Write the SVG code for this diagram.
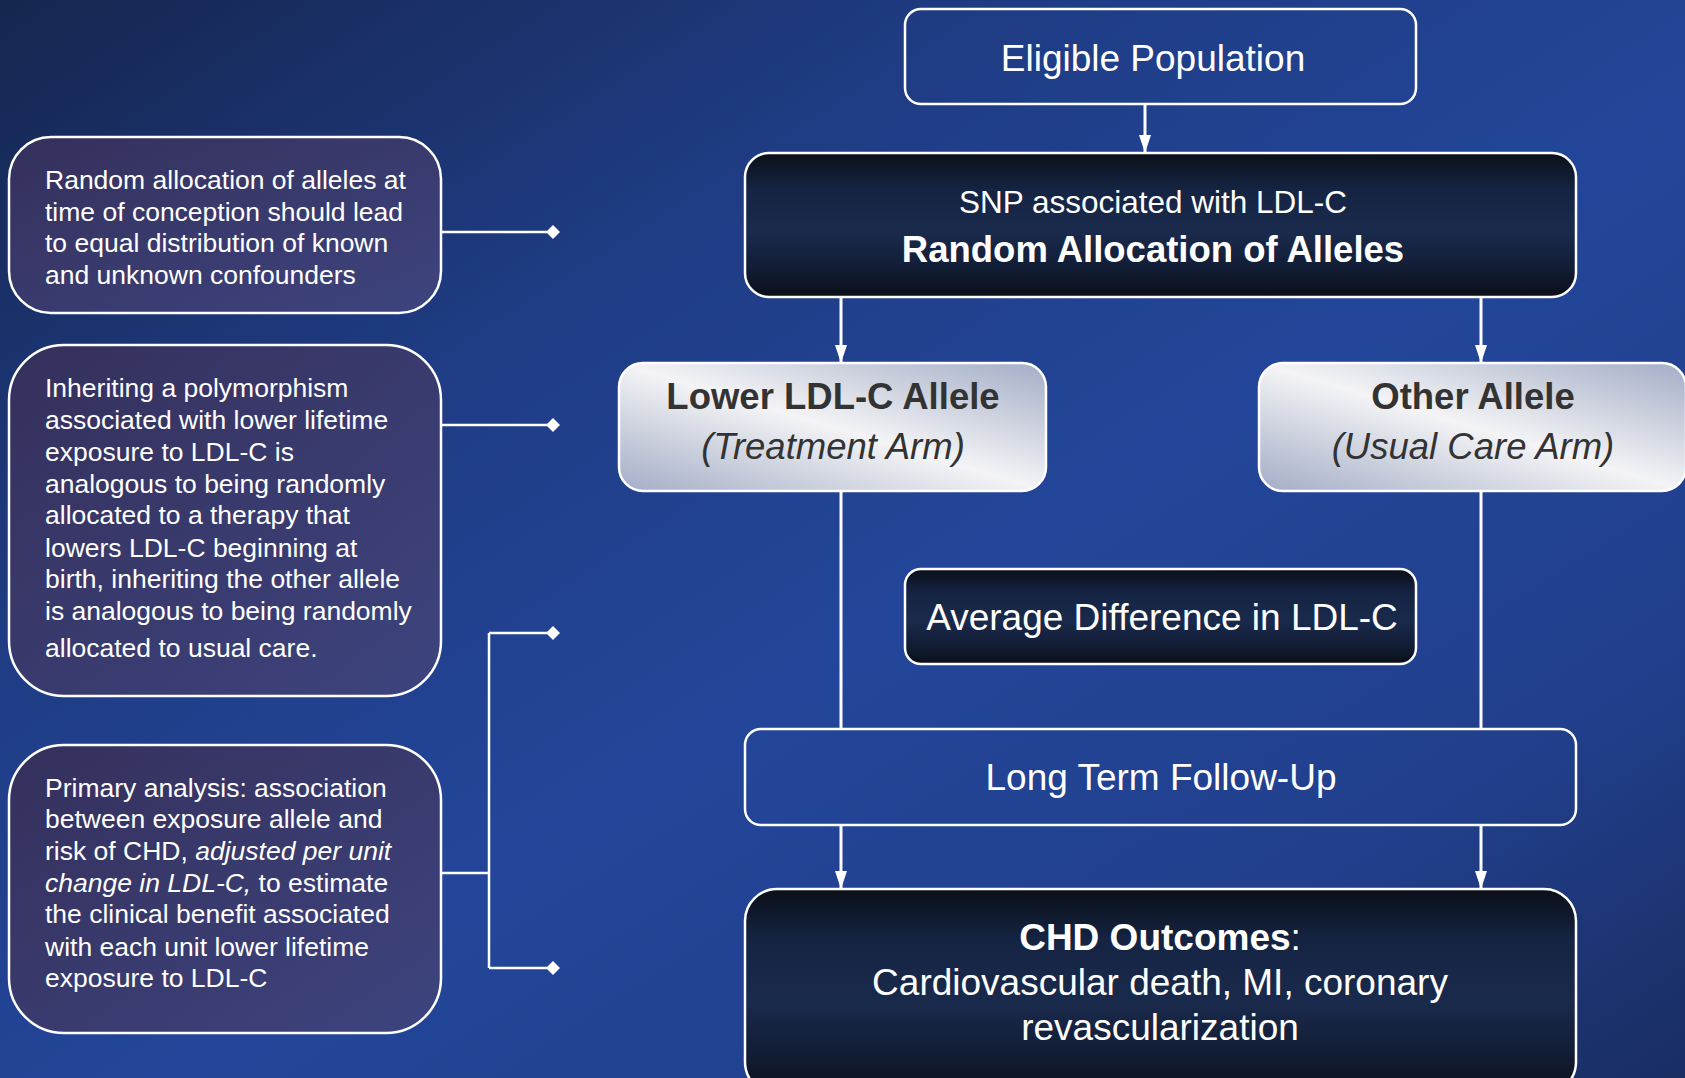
<svg xmlns="http://www.w3.org/2000/svg" width="1685" height="1078" viewBox="0 0 1685 1078">
<defs>
<linearGradient id="bg" x1="0" y1="0" x2="1" y2="1">
<stop offset="0" stop-color="#15264f"/>
<stop offset="0.3" stop-color="#1f3c84"/>
<stop offset="0.55" stop-color="#23469a"/>
<stop offset="0.8" stop-color="#213f8c"/>
<stop offset="1" stop-color="#192d62"/>
</linearGradient>
<linearGradient id="dark" x1="0" y1="0" x2="0" y2="1">
<stop offset="0" stop-color="#0b0f17"/>
<stop offset="0.25" stop-color="#152443"/>
<stop offset="0.55" stop-color="#1a2a4c"/>
<stop offset="0.8" stop-color="#121d35"/>
<stop offset="1" stop-color="#0b0f17"/>
</linearGradient>
<linearGradient id="silver" x1="1" y1="0" x2="0" y2="1">
<stop offset="0" stop-color="#a3adc7"/>
<stop offset="0.3" stop-color="#d3d7e2"/>
<stop offset="0.5" stop-color="#f4f4f6"/>
<stop offset="0.7" stop-color="#d3d7e2"/>
<stop offset="1" stop-color="#a3adc7"/>
</linearGradient>
<linearGradient id="purple" x1="0" y1="0" x2="1" y2="1">
<stop offset="0" stop-color="#35305c"/>
<stop offset="1" stop-color="#3d447e"/>
</linearGradient>
<marker id="arrow" markerUnits="userSpaceOnUse" markerWidth="20" markerHeight="14" viewBox="0 0 20 14" refX="18" refY="7" orient="auto">
<path d="M0,1 L18,7 L0,13 Z" fill="#ffffff"/>
</marker>
<marker id="diamond" markerUnits="userSpaceOnUse" markerWidth="16" markerHeight="16" viewBox="0 0 16 16" refX="8" refY="8" orient="auto">
<path d="M8,1 L15,8 L8,15 L1,8 Z" fill="#ffffff"/>
</marker>
<style>
.t{font-family:"Liberation Sans",Arial,sans-serif;fill:#ffffff}
.c{text-anchor:middle}
.side{font-size:26.5px}
.main{font-size:37px}
.dk{fill:#333333}
.b{font-weight:bold}
.i{font-style:italic}
.box{stroke:#ffffff;stroke-width:2.5}
.conn{stroke:#ffffff;stroke-width:3;fill:none}
.thin{stroke:#ffffff;stroke-width:2.5;fill:none}
</style>
</defs>
<rect x="0" y="0" width="1685" height="1078" fill="url(#bg)"/>

<g id="connectors">
<line class="conn" x1="1145" y1="104" x2="1145" y2="153" marker-end="url(#arrow)"/>
<line class="conn" x1="841" y1="297" x2="841" y2="363" marker-end="url(#arrow)"/>
<line class="conn" x1="1481" y1="297" x2="1481" y2="363" marker-end="url(#arrow)"/>
<line class="conn" x1="841" y1="491" x2="841" y2="729"/>
<line class="conn" x1="1481" y1="491" x2="1481" y2="729"/>
<line class="conn" x1="841" y1="825" x2="841" y2="889" marker-end="url(#arrow)"/>
<line class="conn" x1="1481" y1="825" x2="1481" y2="889" marker-end="url(#arrow)"/>
<line class="thin" x1="441" y1="232" x2="553" y2="232" marker-end="url(#diamond)"/>
<line class="thin" x1="441" y1="425" x2="553" y2="425" marker-end="url(#diamond)"/>
<polyline class="thin" points="441,873 489,873"/>
<polyline class="thin" points="489,633 489,968"/>
<line class="thin" x1="489" y1="633" x2="553" y2="633" marker-end="url(#diamond)"/>
<line class="thin" x1="489" y1="968" x2="553" y2="968" marker-end="url(#diamond)"/>
</g>

<g id="note1">
<rect class="box" x="9" y="137" width="432" height="176" rx="42" ry="42" fill="url(#purple)"/>
<text class="t side" x="45" y="189">Random allocation of alleles at</text>
<text class="t side" x="45" y="221">time of conception should lead</text>
<text class="t side" x="45" y="252">to equal distribution of known</text>
<text class="t side" x="45" y="284">and unknown confounders</text>
</g>

<g id="note2">
<rect class="box" x="9" y="345" width="432" height="351" rx="55" ry="55" fill="url(#purple)"/>
<text class="t side" x="45" y="397">Inheriting a polymorphism</text>
<text class="t side" x="45" y="429">associated with lower lifetime</text>
<text class="t side" x="45" y="461">exposure to LDL-C is</text>
<text class="t side" x="45" y="493">analogous to being randomly</text>
<text class="t side" x="45" y="524">allocated to a therapy that</text>
<text class="t side" x="45" y="557">lowers LDL-C beginning at</text>
<text class="t side" x="45" y="588">birth, inheriting the other allele</text>
<text class="t side" x="45" y="620">is analogous to being randomly</text>
<text class="t side" x="45" y="657">allocated to usual care.</text>
</g>

<g id="note3">
<rect class="box" x="9" y="745" width="432" height="288" rx="55" ry="55" fill="url(#purple)"/>
<text class="t side" x="45" y="797">Primary analysis: association</text>
<text class="t side" x="45" y="828">between exposure allele and</text>
<text class="t side" x="45" y="860">risk of CHD, <tspan class="i">adjusted per unit</tspan></text>
<text class="t side" x="45" y="892"><tspan class="i">change in LDL-C,</tspan> to estimate</text>
<text class="t side" x="45" y="923">the clinical benefit associated</text>
<text class="t side" x="45" y="956">with each unit lower lifetime</text>
<text class="t side" x="45" y="987">exposure to LDL-C</text>
</g>

<g id="eligible">
<rect class="box" x="905" y="9" width="511" height="95" rx="16" ry="16" fill="none"/>
<text class="t c main" x="1153" y="71">Eligible Population</text>
</g>

<g id="snp">
<rect class="box" x="745" y="153" width="831" height="144" rx="24" ry="24" fill="url(#dark)"/>
<text class="t c" x="1153" y="213" font-size="31.5">SNP associated with LDL-C</text>
<text class="t c b" x="1153" y="262" font-size="36.5">Random Allocation of Alleles</text>
</g>

<g id="lower">
<rect class="box" x="619" y="363" width="427" height="128" rx="24" ry="24" fill="url(#silver)"/>
<text class="t c dk b" x="833" y="409" font-size="36.5">Lower LDL-C Allele</text>
<text class="t c dk i" x="833" y="459" font-size="36.5">(Treatment Arm)</text>
</g>

<g id="other">
<rect class="box" x="1259" y="363" width="427" height="128" rx="24" ry="24" fill="url(#silver)"/>
<text class="t c dk b" x="1473" y="409" font-size="36.5">Other Allele</text>
<text class="t c dk i" x="1473" y="459" font-size="36.5">(Usual Care Arm)</text>
</g>

<g id="average">
<rect class="box" x="905" y="569" width="511" height="95" rx="16" ry="16" fill="url(#dark)"/>
<text class="t c main" x="1162" y="630">Average Difference in LDL-C</text>
</g>

<g id="followup">
<rect class="box" x="745" y="729" width="831" height="96" rx="16" ry="16" fill="none"/>
<text class="t c main" x="1161" y="790">Long Term Follow-Up</text>
</g>

<g id="outcomes">
<rect class="box" x="745" y="889" width="831" height="205" rx="32" ry="32" fill="url(#dark)"/>
<text class="t c main" x="1160" y="950"><tspan class="b">CHD Outcomes</tspan>:</text>
<text class="t c main" x="1160" y="995">Cardiovascular death, MI, coronary</text>
<text class="t c main" x="1160" y="1040">revascularization</text>
</g>
</svg>
